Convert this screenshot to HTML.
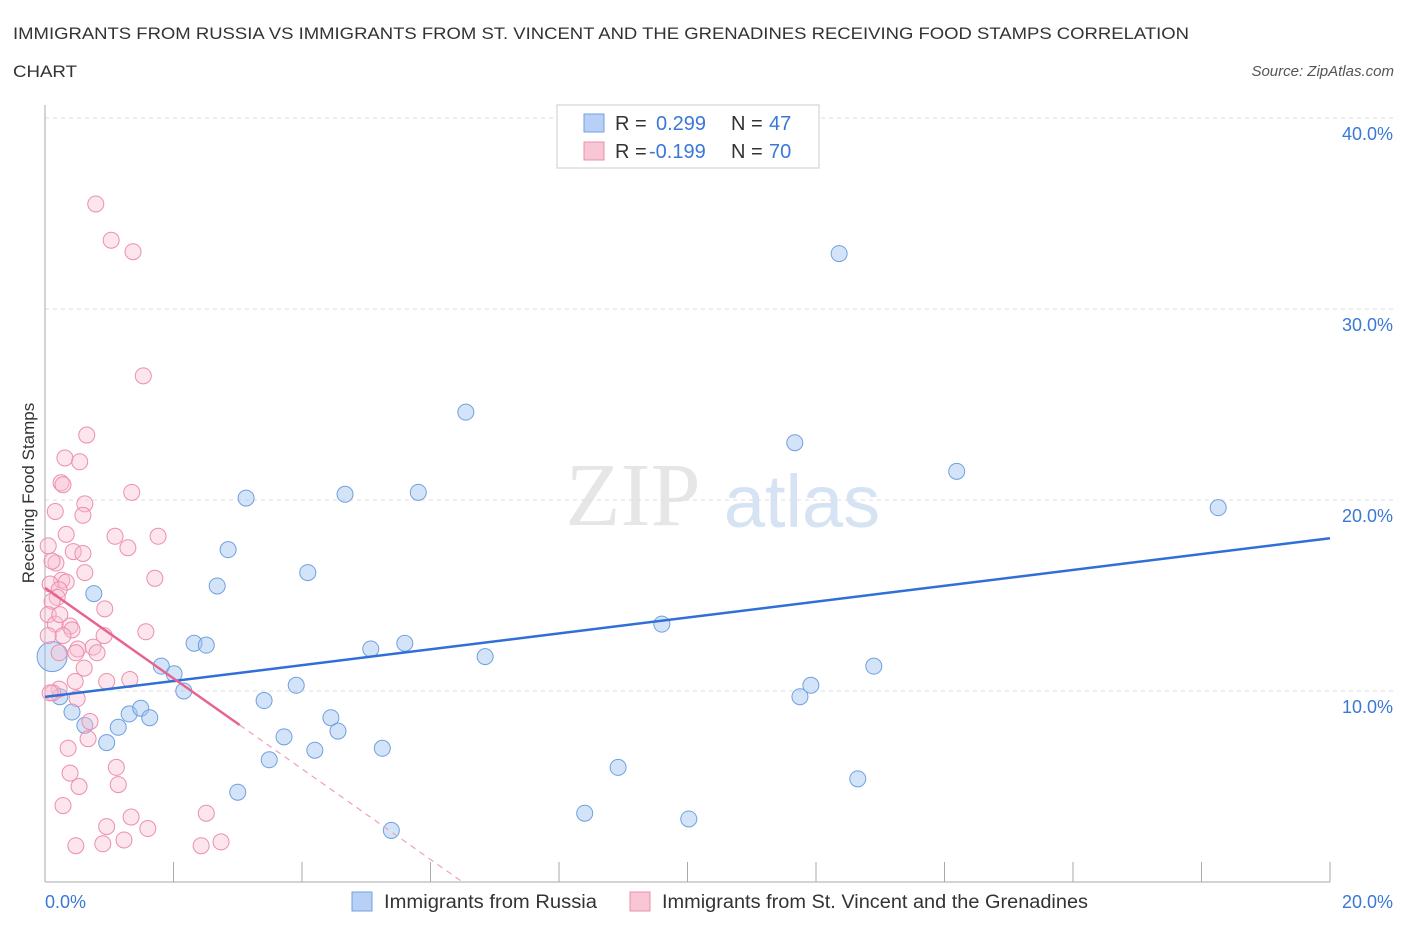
<!DOCTYPE html>
<html><head><meta charset="utf-8"><style>
body{margin:0;background:#fff;font-family:"Liberation Sans",sans-serif;}
</style></head><body>
<svg id="c" width="1406" height="930" xmlns="http://www.w3.org/2000/svg">
<text x="13" y="39" font-size="17" fill="#333" textLength="1176" lengthAdjust="spacingAndGlyphs">IMMIGRANTS FROM RUSSIA VS IMMIGRANTS FROM ST. VINCENT AND THE GRENADINES RECEIVING FOOD STAMPS CORRELATION</text>
<text x="13" y="77" font-size="17" fill="#333" textLength="64" lengthAdjust="spacingAndGlyphs">CHART</text>
<text x="1394" y="76" font-size="15" fill="#555" font-style="italic" text-anchor="end">Source: ZipAtlas.com</text>
<text x="633" y="525" font-size="90" fill="#e6e6e6" font-family="Liberation Serif,serif" text-anchor="middle">ZIP</text>
<text x="802" y="527" font-size="74" fill="#d6e3f3" text-anchor="middle">atlas</text>
<text transform="translate(34,493) rotate(-90)" font-size="17" fill="#333" text-anchor="middle">Receiving Food Stamps</text>
<g id="grid"></g><g id="pts"></g><g id="lines"></g>
<g>
<rect x="557" y="105" width="262" height="63" fill="#fff" stroke="#ccc"/>
<rect x="584" y="114" width="20" height="18" fill="#b8d0f5" stroke="#6fa0e0"/>
<text x="615" y="130" font-size="20" fill="#333">R =</text><text x="656" y="130" font-size="20" fill="#3a78d8">0.299</text>
<text x="731" y="130" font-size="20" fill="#333">N =</text><text x="769" y="130" font-size="20" fill="#3a78d8">47</text>
<rect x="584" y="142" width="20" height="18" fill="#f8c6d5" stroke="#ec8fab"/>
<text x="615" y="158" font-size="20" fill="#333">R =</text><text x="649" y="158" font-size="20" fill="#3a78d8">-0.199</text>
<text x="731" y="158" font-size="20" fill="#333">N =</text><text x="769" y="158" font-size="20" fill="#3a78d8">70</text>
</g>
<g>
<rect x="352" y="892" width="20" height="19" fill="#b8d0f5" stroke="#6fa0e0"/>
<text x="384" y="908" font-size="19" fill="#333" textLength="213" lengthAdjust="spacingAndGlyphs">Immigrants from Russia</text>
<rect x="630" y="892" width="20" height="19" fill="#f8c6d5" stroke="#ec8fab"/>
<text x="662" y="908" font-size="19" fill="#333" textLength="426" lengthAdjust="spacingAndGlyphs">Immigrants from St. Vincent and the Grenadines</text>
</g>
<text x="45" y="908" font-size="18" fill="#3a78d8">0.0%</text>
<text x="1393" y="908" font-size="18" fill="#3a78d8" text-anchor="end">20.0%</text>
</svg>
<script>
const blueX=[0.11,0.23,0.42,0.62,0.76,0.96,1.14,1.31,1.49,1.63,1.81,2.01,2.16,2.32,2.51,2.68,2.85,3.00,3.13,3.41,3.49,3.72,3.91,4.09,4.20,4.45,4.56,4.67,5.07,5.25,5.39,5.60,5.81,6.55,6.85,8.40,8.92,9.60,10.02,11.67,11.75,11.92,12.36,12.65,12.90,14.19,18.26];
const blueY=[11.8,9.7,8.9,8.2,15.1,7.3,8.1,8.8,9.1,8.6,11.3,10.9,10.0,12.5,12.4,15.5,17.4,4.7,20.1,9.5,6.4,7.6,10.3,16.2,6.9,8.6,7.9,20.3,12.2,7.0,2.7,12.5,20.4,24.6,11.8,3.6,6.0,13.5,3.3,23.0,9.7,10.3,32.9,5.4,11.3,21.5,19.6];
const pinkX=[0.79,1.03,1.37,1.53,0.65,0.31,0.54,0.25,0.28,1.35,0.62,0.16,0.59,0.33,1.09,1.76,1.29,0.05,0.44,0.59,0.17,0.62,1.71,0.26,0.33,0.08,0.22,0.19,0.11,0.93,0.05,0.16,0.39,0.42,1.57,0.28,0.92,0.75,0.51,0.81,0.22,0.48,0.61,0.47,0.96,1.32,0.22,0.12,0.50,0.67,0.36,1.11,0.39,0.53,1.14,0.28,1.34,2.51,0.96,1.60,1.23,0.90,0.48,2.43,2.74,0.05,0.08,0.11,0.23,0.70];
const pinkY=[35.5,33.6,33.0,26.5,23.4,22.2,22.0,20.9,20.8,20.4,19.8,19.4,19.2,18.2,18.1,18.1,17.5,17.6,17.3,17.2,16.7,16.2,15.9,15.8,15.7,15.6,15.3,14.9,14.7,14.3,14.0,13.5,13.4,13.2,13.1,12.9,12.9,12.3,12.2,12.0,12.0,12.0,11.2,10.5,10.5,10.6,10.1,9.9,9.6,7.5,7.0,6.0,5.7,5.0,5.1,4.0,3.4,3.6,2.9,2.8,2.2,2.0,1.9,1.9,2.1,12.9,9.9,16.8,14.0,8.4];
const yTicks=[10,20,30,40];
const blueFit=[9.69,18.0];
const pinkFit=[15.4,-2.37];
const xs=v=>45+v*64.25, ys=v=>882-v*19.1;
const NS='http://www.w3.org/2000/svg';
function mk(t,a,p){const e=document.createElementNS(NS,t);for(const k in a)e.setAttribute(k,a[k]);p.appendChild(e);return e;}
const g=document.getElementById('grid');
yTicks.forEach(t=>{
 const l=mk('line',{x1:45,x2:1393,y1:ys(t),y2:ys(t),stroke:'#ddd','stroke-dasharray':'4,4'},g);
 
 
 const tx=mk('text',{x:1393,y:ys(t)+22,'font-size':18,fill:'#3a78d8','text-anchor':'end'},g);
 tx.textContent=t.toFixed(1)+'%';
 
 
});
mk('line',{x1:45,x2:45,y1:105,y2:882,stroke:'#aaa'},g);
mk('line',{x1:45,x2:1330,y1:882,y2:882,stroke:'#aaa'},g);
for(let i=0;i<=10;i++){mk('line',{x1:xs(i*2),x2:xs(i*2),y1:862,y2:882,stroke:'#aaa'},g);}
const p=document.getElementById('pts');
blueX.forEach((x,i)=>{
 const c=mk('circle',{cx:xs(x),cy:ys(blueY[i]),r:i==0?15:8,fill:'rgba(160,195,240,0.45)',stroke:'#6fa0e0','stroke-width':1},p);
 
 
});
pinkX.forEach((x,i)=>{
 const c=mk('circle',{cx:xs(x),cy:ys(pinkY[i]),r:8,fill:'rgba(248,190,210,0.4)',stroke:'#ec8fab','stroke-width':1},p);
 
 
});
const L=document.getElementById('lines');
const bl=mk('line',{x1:xs(0),y1:ys(blueFit[0]),x2:xs(20),y2:ys(blueFit[1]),stroke:'#2f6fd6','stroke-width':2.5},L);


const pe=3.03, pz=-pinkFit[0]/pinkFit[1];
const pl=mk('line',{x1:xs(0),y1:ys(pinkFit[0]),x2:xs(pe),y2:ys(pinkFit[0]+pinkFit[1]*pe),stroke:'#e8648e','stroke-width':2.5},L);


const pd=mk('line',{x1:xs(pe),y1:ys(pinkFit[0]+pinkFit[1]*pe),x2:xs(pz),y2:ys(0),stroke:'#f0a0b8','stroke-width':1.2,'stroke-dasharray':'6,5'},L);


</script>
</body></html>
